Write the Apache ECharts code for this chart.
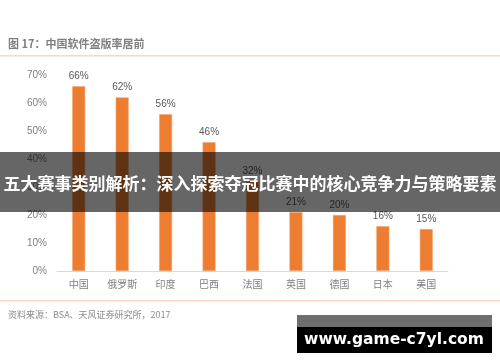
<!DOCTYPE html>
<html><head><meta charset="utf-8">
<script src="https://cdn.jsdelivr.net/npm/echarts@6/dist/echarts.min.js"></script>
<style>html,body{margin:0;padding:0;background:#fff}#c{width:500px;height:362px}</style>
</head><body><div id="c"></div>
<script>
const categories = ['中国','俄罗斯','印度','巴西','法国','英国','德国','日本','美国'];
const piracyRate = [66,62,56,46,32,21,20,16,15];
const yTicks = [0,10,20,30,40,50,60,70];
const titleText = '图 17：中国软件盗版率居前';
const sourceText = '资料来源：BSA、天风证券研究所，2017';
const bannerText = '五大赛事类别解析：深入探索夺冠比赛中的核心竞争力与策略要素';
const watermarkText = 'www.game-c7yl.com';
const FONT = '"Noto Sans CJK SC","Noto Sans",sans-serif';

const chart = echarts.init(document.getElementById('c'));
chart.setOption({
  animation:false,
  backgroundColor:'#fff',
  textStyle:{fontFamily:FONT},
  grid:{left:57,right:52,top:75,bottom:91},
  xAxis:{type:'category',data:categories,
    axisLine:{lineStyle:{color:'#d9d9d9'}},axisTick:{show:false},
    axisLabel:{color:'#7f7f7f',fontSize:10,margin:8,fontFamily:FONT}},
  yAxis:{type:'value',min:yTicks[0],max:yTicks[yTicks.length-1],interval:10,
    axisLine:{show:false},axisTick:{show:false},splitLine:{show:false},
    axisLabel:{color:'#7f7f7f',fontSize:10,margin:10,formatter:v=>v+'%',fontFamily:'"Liberation Sans",sans-serif'}},
  series:[{type:'bar',data:piracyRate,barWidth:13,
    itemStyle:{color:'#ED7D31',borderColor:'#F4A872',borderWidth:0.6},
    label:{show:true,position:'top',distance:5,color:'#595959',fontSize:10,
      fontFamily:'"Liberation Sans",sans-serif',formatter:p=>p.value+'%'}}],
  graphic:[
    {type:'text',left:8,top:38,style:{text:titleText,fill:'#7f7f7f',font:'bold 11px '+FONT}},
    {type:'rect',shape:{x:0,y:55,width:500,height:1.5},style:{fill:'#FAD9C0'}},
    {type:'rect',shape:{x:0,y:300,width:500,height:1.5},style:{fill:'#FAD9C0'}},
    {type:'text',left:8,top:310,style:{text:sourceText,fill:'#8c8c8c',font:'9px '+FONT}},
    {type:'rect',shape:{x:0,y:152,width:500,height:60},style:{fill:'rgba(0,0,0,0.6)'},z:100},
    {type:'text',x:250,y:184,style:{text:bannerText,fill:'#fff',font:'bold 17px '+FONT,align:'center',verticalAlign:'middle'},z:101},
    {type:'rect',shape:{x:297,y:315,width:195,height:12},style:{fill:'#6e6e6e'},z:100},
    {type:'rect',shape:{x:297,y:327,width:195,height:26},style:{fill:'#000'},z:100},
    {type:'text',x:394,y:340,style:{text:watermarkText,fill:'#fff',font:'bold 15.5px "DejaVu Sans",sans-serif',align:'center',verticalAlign:'middle'},z:101}
  ]
});
</script></body></html>
